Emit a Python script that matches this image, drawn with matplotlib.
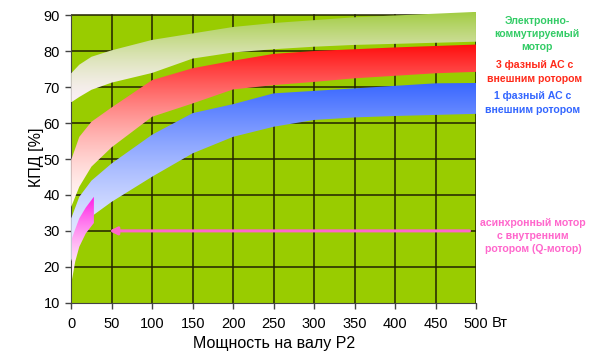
import numpy as np
import matplotlib
matplotlib.use('Agg')
import matplotlib.pyplot as plt

plt.rcParams['font.family'] = ['Liberation Sans', 'DejaVu Sans']

# мощность на валу, Вт
power = [0, 10, 25, 50, 100, 150, 200, 250, 300, 350, 400, 450, 500]

# КПД, % (верхняя и нижняя граница полос)
ec_top = [73.9, 76.3, 78.5, 80.3, 83.2, 85.0, 86.8, 87.9, 88.7, 89.5, 90.0, 90.5, 91.0]
ec_bot = [65.8, 67.3, 69.3, 71.3, 74.0, 78.0, 79.7, 80.6, 81.3, 81.8, 82.1, 82.4, 82.7]
ac3_top = [49.8, 56.2, 60.4, 64.4, 72.0, 75.3, 77.4, 79.3, 80.1, 80.6, 81.1, 81.5, 81.9]
ac3_bot = [36.7, 42.3, 47.9, 53.3, 61.8, 65.5, 69.4, 70.6, 71.5, 72.5, 73.2, 73.9, 74.3]
ac1_top = [33.5, 39.5, 44.0, 48.8, 56.8, 62.8, 65.3, 68.3, 69.0, 69.7, 70.4, 71.1, 71.2]
ac1_bot = [21.5, 29.4, 34.0, 38.1, 45.1, 51.6, 56.2, 59.0, 60.9, 61.6, 62.0, 62.3, 62.6]

q_power = [1, 5, 10, 18, 28]
q_top = [28.0, 30.5, 33.5, 36.5, 39.5]
q_bot = [16.5, 21.5, 25.6, 29.3, 32.2]

q_line_x = [492, 47]
q_line_y = [30, 30]

yticks = [10, 20, 30, 40, 50, 60, 70, 80, 90]
xticks = [0, 50, 100, 150, 200, 250, 300, 350, 400, 450, 500]


def gradient_band(ax, x, lo, hi, color, light, gamma=1.5):
    x = np.asarray(x, float)
    lo = np.asarray(lo, float)
    hi = np.asarray(hi, float)
    poly = ax.fill_between(x, lo, hi, facecolor='none', edgecolor='none')
    y0, y1 = lo.min(), hi.max()
    yy = np.linspace(0, 1, 200)[:, None]
    t = np.repeat(yy ** gamma, 2, axis=1)
    c = np.array(color)[None, None, :]
    w = np.array(light)[None, None, :]
    img = w * (1 - t[..., None]) + c * t[..., None]
    im = ax.imshow(img, extent=(x.min(), x.max(), y0, y1), origin='lower',
                   aspect='auto', zorder=3, interpolation='bilinear')
    im.set_clip_path(poly.get_paths()[0], transform=ax.transData)
    return im


fig = plt.figure(figsize=(6, 3.58), dpi=100)
ax = fig.add_axes([0.1187, 0.1545, 0.6746, 0.8123])
ax.set_facecolor('white')

ax.axhspan(10, 90, facecolor='#99cc00', zorder=0)
for xv in xticks[1:]:
    ax.axvline(xv, ymin=0, ymax=80 / 81, color='#222200', lw=1.1, zorder=1)
for yv in yticks[1:]:
    ax.axhline(yv, color='#222200', lw=1.1, zorder=1)

gradient_band(ax, power, ec_bot, ec_top, (0.63, 0.80, 0.25), (0.98, 0.94, 0.96))
gradient_band(ax, power, ac3_bot, ac3_top, (1.0, 0.05, 0.05), (1.0, 0.97, 0.96))
gradient_band(ax, power, ac1_bot, ac1_top, (0.22, 0.40, 1.0), (0.93, 0.94, 1.0))
gradient_band(ax, q_power, q_bot, q_top, (1.0, 0.10, 0.90), (1.0, 0.96, 0.98))

ax.annotate('', xy=(q_line_x[1], q_line_y[1]), xytext=(q_line_x[0], q_line_y[0]),
            arrowprops=dict(arrowstyle='-|>', color='#ff66cc', lw=2.2,
                            mutation_scale=11, shrinkA=0, shrinkB=0), zorder=5)

ax.set_xlim(0, 500)
ax.set_ylim(10, 91)
ax.set_xticks(xticks)
ax.set_yticks(yticks)
ax.set_xticklabels([str(v) for v in xticks])
ax.tick_params(direction='out', length=4, width=1, color='#444444',
               labelsize=10.5, pad=4)
ax.tick_params(axis='x', pad=6)
ax.annotate('Вт', xy=(500, 10), xytext=(11.5, -14.5), textcoords='offset points',
            fontsize=10.5, ha='left', va='center')

for s in ['top', 'right']:
    ax.spines[s].set_visible(False)
ax.spines['left'].set_bounds(10, 90)
ax.spines['left'].set_color('#444444')
ax.spines['bottom'].set_color('#444444')

ax.set_xlabel('Мощность на валу Р2', fontsize=11.5, labelpad=4)
ax.set_ylabel('КПД [%]', fontsize=11.5, labelpad=0)

kw = dict(ha='center', va='center', fontsize=7.6, fontweight='bold', linespacing=1.4)
fig.text(537 / 600, 1 - 34 / 358, 'Электронно-\nкоммутируемый\nмотор', color='#33cc66', **kw)
fig.text(535 / 600, 1 - 72 / 358, '3 фазный АС с\nвнешним ротором', color='#ff2a1a', **kw)
fig.text(533 / 600, 1 - 103 / 358, '1 фазный АС с\nвнешним ротором', color='#3366ff', **kw)
fig.text(533 / 600, 1 - 236 / 358, 'асинхронный мотор\nс внутренним\nротором (Q-мотор)', color='#ff66cc', **kw)

fig.savefig('out.png', dpi=100)
